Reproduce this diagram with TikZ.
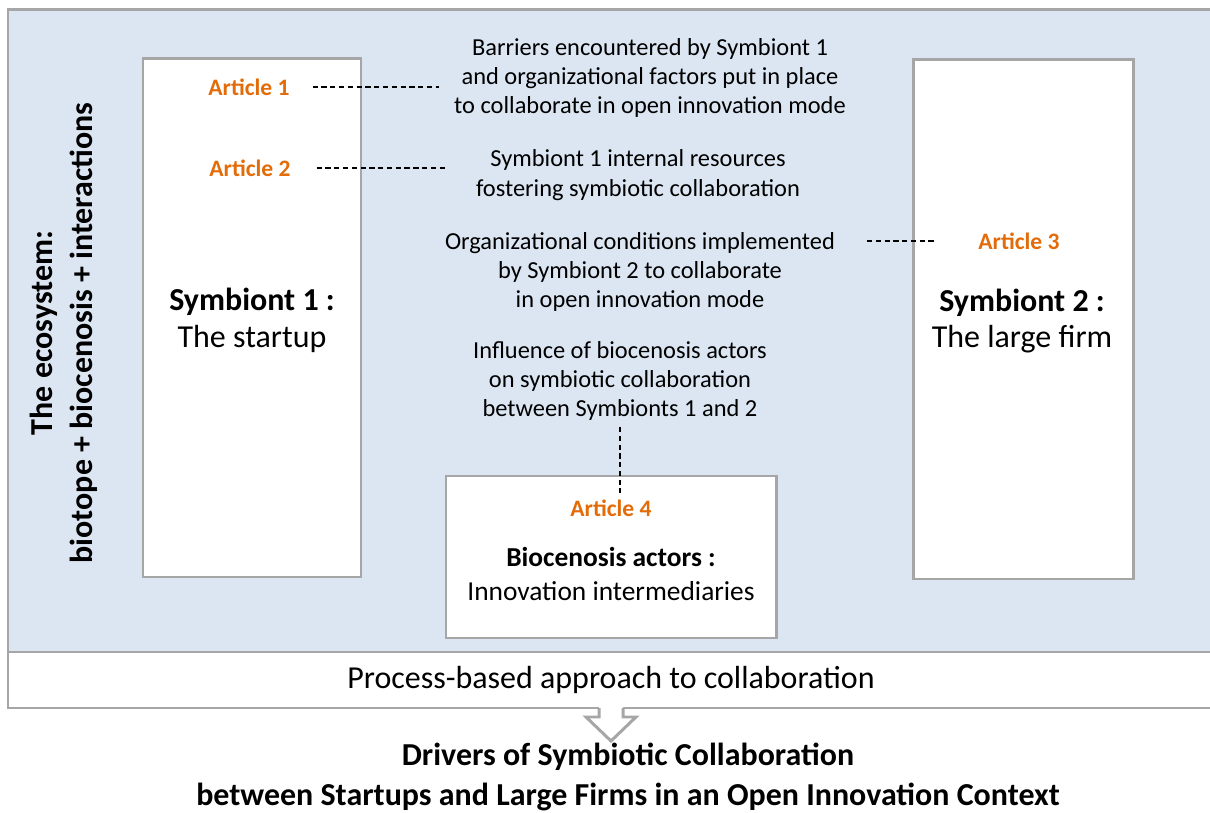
\documentclass[tikz,border=0pt]{standalone}
\usepackage{fontspec}
\setmainfont{Carlito}
\usetikzlibrary{calc}
\definecolor{ecoblue}{HTML}{DCE6F2}
\definecolor{boxgray}{HTML}{A6A6A6}
\definecolor{artorange}{HTML}{E36C09}

\begin{document}
\begin{tikzpicture}[x=0.02cm, y=-0.02cm,
    frame/.style={draw=boxgray, line width=1.7pt},
    article/.style={text=artorange, font=\fontsize{13.4}{15}\selectfont\bfseries},
    note/.style={align=center, font=\fontsize{13.9}{16.7}\selectfont},
    big/.style={align=center, font=\fontsize{18.2}{21}\selectfont},
    link/.style={densely dashed, line width=0.6pt}]
  \useasboundingbox (0,0) rectangle (1210,813);
  \clip (0,0) rectangle (1210,813);
  % ecosystem and process band
  \draw[frame, fill=ecoblue] (8,10) rectangle (1216,652);
  \draw[frame, fill=white] (8,652) rectangle (1216,708);
  % the three actors
  \draw[frame, fill=white] (143,59) rectangle (361,577);
  \draw[frame, fill=white] (913,60) rectangle (1133,579);
  \draw[frame, fill=white] (446,476) rectangle (776,638);
  % hollow arrow
  \fill[white] (599,706) -- (599,717) -- (586,717) -- (611,741)
    -- (636,717) -- (623,717) -- (623,706) -- cycle;
  \draw[frame, line join=miter] (599,708) -- (599,717) -- (586,717) -- (611,741)
    -- (636,717) -- (623,717) -- (623,708);

  \node[rotate=90, align=center, font=\fontsize{18.2}{22.7}\selectfont\bfseries] (eco) at (64,333)
    {The ecosystem:\\biotope + biocenosis + interactions};
  \node[big] (s1) at (252,320) {\textbf{Symbiont 1 :}\\The startup};
  \node[big] (s2) at (1022,321) {\textbf{Symbiont 2 :}\\The large firm};
  \node[align=center, font=\fontsize{15.6}{19.3}\selectfont] (bio) at (611,574)
    {\textbf{Biocenosis actors :}\\Innovation intermediaries};
  \node[big] (proc) at (611,680) {Process-based approach to collaboration};
  \node[align=center, font=\fontsize{18.2}{22.7}\selectfont\bfseries] (drivers) at (628,777)
    {Drivers of Symbiotic Collaboration\\between Startups and Large Firms in an Open Innovation Context};

  \node[article] (a1) at (249,87) {Article 1};
  \node[article] (a2) at (250,168) {Article 2};
  \node[article] (a3) at (1019,241) {Article 3};
  \node[article] (a4) at (611,508) {Article 4};

  \node[note] (t1) at (650,78) {Barriers encountered by Symbiont 1\\and organizational factors put in place\\to collaborate in open innovation mode};
  \node[note] (t2) at (638,175) {Symbiont 1 internal resources\\fostering symbiotic collaboration};
  \node[note] (t3) at (640,272) {Organizational conditions implemented\\by Symbiont 2 to collaborate\\in open innovation mode};
  \node[note] (t4) at (620,381) {Influence of biocenosis actors\\on symbiotic collaboration\\between Symbionts 1 and 2};

  \draw[link, shorten <=9.6pt, shorten >=5pt] (a1.east) -- (a1.east -| t1.west);
  \draw[link, shorten <=11.3pt, shorten >=13pt] (a2.east) -- (a2.east -| t2.west);
  \draw[link, shorten <=14.7pt, shorten >=22pt] (t3.east |- a3) -- (a3.west);
  \draw[link] (t4.south) -- (t4.south |- a4.north);
\end{tikzpicture}
\end{document}
